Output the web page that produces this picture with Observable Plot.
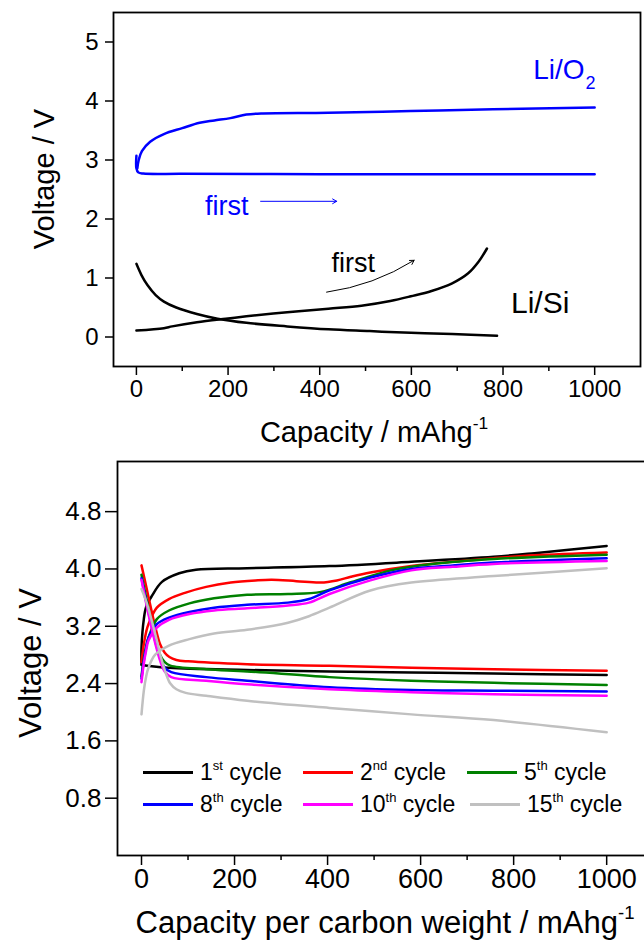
<!DOCTYPE html>
<html><head><meta charset="utf-8">
<script src="https://cdn.jsdelivr.net/npm/d3@7"></script>
<script src="https://cdn.jsdelivr.net/npm/@observablehq/plot@0.6"></script>
<style>
body{margin:0;background:#fff;}
#wrap{position:relative;width:644px;height:941px;font-family:Arial,"Liberation Sans",sans-serif;overflow:hidden;background:#fff;}
#top{position:absolute;left:0;top:0;width:644px;}
#bot{position:absolute;left:0;top:450px;width:662px;}
#wrap svg{max-width:none !important;}
.leg{position:absolute;display:flex;align-items:center;font-size:23px;color:#000;white-space:nowrap;}
.leg .sw{display:inline-block;width:50px;height:3px;margin-right:7px;}
.leg sup{font-size:13px;vertical-align:0;position:relative;top:-10px;}
</style></head><body>
<div id="wrap"><div id="top"></div><div id="bot"></div></div>
<script>
// ---------- top panel data: [capacity mAh/g, voltage V] ----------
const liO2Discharge = [[0,3.07],[0,2.86],[4,2.79],[15,2.77],[100,2.765],[400,2.76],[700,2.76],[1000,2.76]];
const liO2Charge = [[2,2.86],[5,3.0],[12,3.15],[30,3.31],[60,3.44],[100,3.54],[138,3.63],[170,3.67],[205,3.71],[240,3.77],[276,3.79],[419,3.8],[599,3.83],[778,3.86],[1000,3.89]];
const liSiDischarge = [[0,1.24],[11,1.05],[24,0.88],[42,0.71],[60,0.6],[87,0.5],[132,0.39],[177,0.31],[240,0.24],[329,0.18],[419,0.13],[509,0.1],[599,0.07],[689,0.05],[787,0.02]];
const liSiCharge = [[0,0.11],[60,0.15],[78,0.18],[132,0.25],[195,0.31],[240,0.35],[329,0.42],[419,0.48],[491,0.53],[554,0.61],[599,0.69],[644,0.78],[689,0.91],[724,1.08],[747,1.28],[765,1.5]];
const topXTicks = [0,200,400,600,800,1000];
const topXMinor = [100,300,500,700,900];
const topYTicks = [0,1,2,3,4,5];
// annotations
const topLabels = [
  {x:978, y:4.53, text:"Li/O", fill:"#0000ff", size:28, anchor:"end"},
  {x:881, y:0.57, text:"Li/Si", fill:"#000", size:30, anchor:"middle"},
  {x:197, y:2.22, text:"first", fill:"#0000ff", size:27, anchor:"middle"},
  {x:473, y:1.25, text:"first", fill:"#000", size:27, anchor:"middle"}
];
const topSub = [{x:980, y:4.3, text:"2", fill:"#0000ff", size:18}];
const topArrows = [
  {x1:271, y1:2.3, x2:437, y2:2.3, c:"#0000ff", bend:0},
  {x1:415, y1:0.76, x2:606, y2:1.30, c:"#000", bend:-12}
];

// ---------- bottom panel data ----------
const cyc1Charge = [[0,2.67],[0,2.9],[5,3.3],[10,3.47],[22,3.62],[44,3.82],[81,3.94],[117,3.99],[227,4.01],[404,4.04],[580,4.1],[757,4.17],[845,4.22],[1000,4.32]];
const cyc1Discharge = [[0,2.66],[59,2.62],[227,2.59],[404,2.57],[580,2.555],[757,2.54],[1000,2.52]];
const cyc2Charge = [[0,2.7],[5,2.95],[10,3.12],[15,3.23],[33,3.46],[59,3.58],[95,3.67],[139,3.75],[192,3.81],[245,3.84],[280,3.85],[333,3.83],[385,3.81],[420,3.84],[450,3.89],[492,3.95],[580,4.04],[669,4.1],[757,4.15],[845,4.19],[1000,4.23]];
const cyc2Discharge = [[0,4.05],[10,3.76],[20,3.46],[30,3.18],[40,2.95],[50,2.83],[60,2.77],[75,2.73],[100,2.71],[227,2.67],[404,2.65],[580,2.62],[757,2.6],[1000,2.58]];
const cyc5Charge = [[0,2.5],[5,2.75],[10,2.92],[15,3.04],[33,3.3],[59,3.42],[103,3.52],[156,3.59],[227,3.64],[315,3.65],[386,3.68],[448,3.81],[536,3.98],[625,4.07],[757,4.14],[1000,4.2]];
const cyc5Discharge = [[0,3.92],[10,3.6],[20,3.3],[30,3.02],[40,2.8],[50,2.7],[62,2.65],[139,2.6],[227,2.57],[404,2.49],[580,2.44],[757,2.41],[1000,2.38]];
const cyc8Charge = [[0,2.47],[5,2.72],[10,2.9],[15,3.04],[33,3.23],[59,3.32],[103,3.4],[156,3.46],[227,3.5],[315,3.53],[360,3.58],[404,3.7],[492,3.88],[580,4.0],[669,4.05],[757,4.09],[1000,4.15]];
const cyc8Discharge = [[0,3.87],[10,3.55],[20,3.25],[30,2.98],[40,2.76],[50,2.62],[64,2.56],[139,2.49],[227,2.44],[404,2.35],[580,2.31],[757,2.3],[1000,2.29]];
const cyc10Charge = [[0,2.42],[5,2.68],[10,2.86],[15,3.0],[33,3.18],[59,3.29],[103,3.37],[156,3.42],[227,3.45],[315,3.49],[360,3.53],[404,3.65],[492,3.84],[580,3.98],[669,4.03],[757,4.07],[1000,4.11]];
const cyc10Discharge = [[0,3.85],[10,3.52],[20,3.22],[30,2.95],[40,2.72],[50,2.57],[64,2.49],[139,2.44],[227,2.39],[404,2.32],[580,2.28],[757,2.25],[1000,2.23]];
const cyc15Charge = [[0,1.97],[5,2.3],[10,2.5],[15,2.62],[29,2.8],[59,2.93],[103,3.02],[156,3.1],[227,3.15],[315,3.25],[360,3.34],[404,3.46],[492,3.7],[580,3.81],[757,3.9],[1000,4.01]];
const cyc15Discharge = [[0,3.72],[10,3.55],[24,3.23],[33,3.0],[42,2.76],[52,2.55],[62,2.4],[75,2.32],[95,2.27],[139,2.23],[227,2.16],[404,2.06],[580,1.97],[757,1.89],[1000,1.72]];
const botXTicks = [0,200,400,600,800,1000];
const botXMinor = [100,300,500,700,900];
const botYTicks = [0.8,1.6,2.4,3.2,4.0,4.8];
const cycleNums = ["1","2","5","8","10","15"];
const cycleSups = ["st","nd","th","th","th","th"];
const cycleColors = ["#000000","#ff0000","#008000","#0000ff","#ff00ff","#c0c0c0"];
const cycleSeries = [[cyc1Charge,cyc1Discharge],[cyc2Charge,cyc2Discharge],[cyc5Charge,cyc5Discharge],[cyc8Charge,cyc8Discharge],[cyc10Charge,cyc10Discharge],[cyc15Charge,cyc15Discharge]];
const legendLeft = [143,303,467,143,303,470];
const legendTop = [773,773,773,805,805,805];

const FONT = "Arial, 'Liberation Sans', sans-serif";
const X = d => d[0], Y = d => d[1];

// ---------- top plot ----------
const topPlot = Plot.plot({
  width: 644, height: 450,
  marginLeft: 113, marginRight: 4, marginTop: 12, marginBottom: 84,
  x: {domain: [-50, 1100]},
  y: {domain: [-0.5, 5.5]},
  style: {fontFamily: FONT, background: "white", color: "black"},
  marks: [
    Plot.axisX({ticks: topXTicks, tickSize: 9, tickPadding: 4, fontSize: 24, label: null, strokeWidth: 1.5, tickFormat: d3.format("d")}),
    Plot.axisX({ticks: topXMinor, tickSize: 5, tickFormat: () => "", label: null, strokeWidth: 1.5}),
    Plot.axisY({ticks: topYTicks, tickSize: 8, tickPadding: 7, fontSize: 24, label: null, strokeWidth: 1.5, tickFormat: d3.format("d")}),
    Plot.line(liSiDischarge, {x: X, y: Y, curve: "catmull-rom", stroke: "#000", strokeWidth: 2.5}),
    Plot.line(liSiCharge, {x: X, y: Y, curve: "catmull-rom", stroke: "#000", strokeWidth: 2.5}),
    Plot.line(liO2Discharge, {x: X, y: Y, curve: "catmull-rom", stroke: "#0000ff", strokeWidth: 2.5}),
    Plot.line(liO2Charge, {x: X, y: Y, curve: "catmull-rom", stroke: "#0000ff", strokeWidth: 2.5}),
    ...topLabels.map(l => Plot.text([l], {x: "x", y: "y", text: "text", fill: l.fill, fontSize: l.size, textAnchor: l.anchor})),
    ...topSub.map(l => Plot.text([l], {x: "x", y: "y", text: "text", fill: l.fill, fontSize: l.size, textAnchor: "start"})),
    ...topArrows.map(a => Plot.arrow([a], {x1: "x1", y1: "y1", x2: "x2", y2: "y2", stroke: a.c, strokeWidth: 1, bend: a.bend, headLength: 7})),
    Plot.frame({stroke: "black", strokeWidth: 1.8})
  ]
});
topPlot.style.maxWidth = "none";
document.getElementById("top").appendChild(topPlot);

// ---------- bottom plot ----------
const lineMarks = [];
cycleSeries.forEach((pair, i) => {
  pair.forEach(s => lineMarks.push(Plot.line(s, {x: X, y: Y, curve: "catmull-rom", stroke: cycleColors[i], strokeWidth: 2.5})));
});
const botPlot = Plot.plot({
  width: 662, height: 491,
  marginLeft: 117, marginRight: 0, marginTop: 11, marginBottom: 86,
  x: {domain: [-51.6, 1120]},
  y: {domain: [0, 5.5]},
  style: {fontFamily: FONT, background: "white", color: "black"},
  marks: [
    Plot.axisX({ticks: botXTicks, tickSize: 10, tickPadding: 3, fontSize: 27, label: null, strokeWidth: 1.5, tickFormat: d3.format("d")}),
    Plot.axisX({ticks: botXMinor, tickSize: 5, tickFormat: () => "", label: null, strokeWidth: 1.5}),
    Plot.axisY({ticks: botYTicks, tickSize: 12, tickPadding: 4, fontSize: 26, label: null, strokeWidth: 1.5, tickFormat: d3.format(".1f")}),
    ...lineMarks,
    Plot.frame({stroke: "black", strokeWidth: 1.8})
  ]
});
botPlot.style.maxWidth = "none";
document.getElementById("bot").appendChild(botPlot);

// ---------- axis titles with superscripts ----------
function addTitle(svg, x, y, rotate, size, main, sup) {
  const t = d3.select(svg).append("text")
    .attr("transform", `translate(${x},${y}) rotate(${rotate})`)
    .attr("text-anchor", "middle").attr("font-size", size).attr("font-family", FONT).attr("fill", "black");
  t.append("tspan").text(main);
  if (sup) {
    t.append("tspan").attr("dy", -size * 0.45).attr("font-size", size * 0.6).text(sup);
  }
}
addTitle(topPlot, 54, 179, -90, 29, "Voltage / V");
addTitle(topPlot, 374, 442, 0, 29, "Capacity / mAhg", "-1");
addTitle(botPlot, 41, 213, -90, 31, "Voltage / V");
addTitle(botPlot, 385, 483, 0, 31, "Capacity per carbon weight / mAhg", "-1");

// ---------- legend ----------
const wrap = document.getElementById("wrap");
cycleNums.forEach((n, i) => {
  const d = document.createElement("div");
  d.className = "leg";
  d.style.left = legendLeft[i] + "px";
  d.style.top = (legendTop[i] - 14) + "px";
  d.innerHTML = `<span class="sw" style="background:${cycleColors[i]}"></span><span>${n}<sup>${cycleSups[i]}</sup> cycle</span>`;
  wrap.appendChild(d);
});
</script>
</body></html>
